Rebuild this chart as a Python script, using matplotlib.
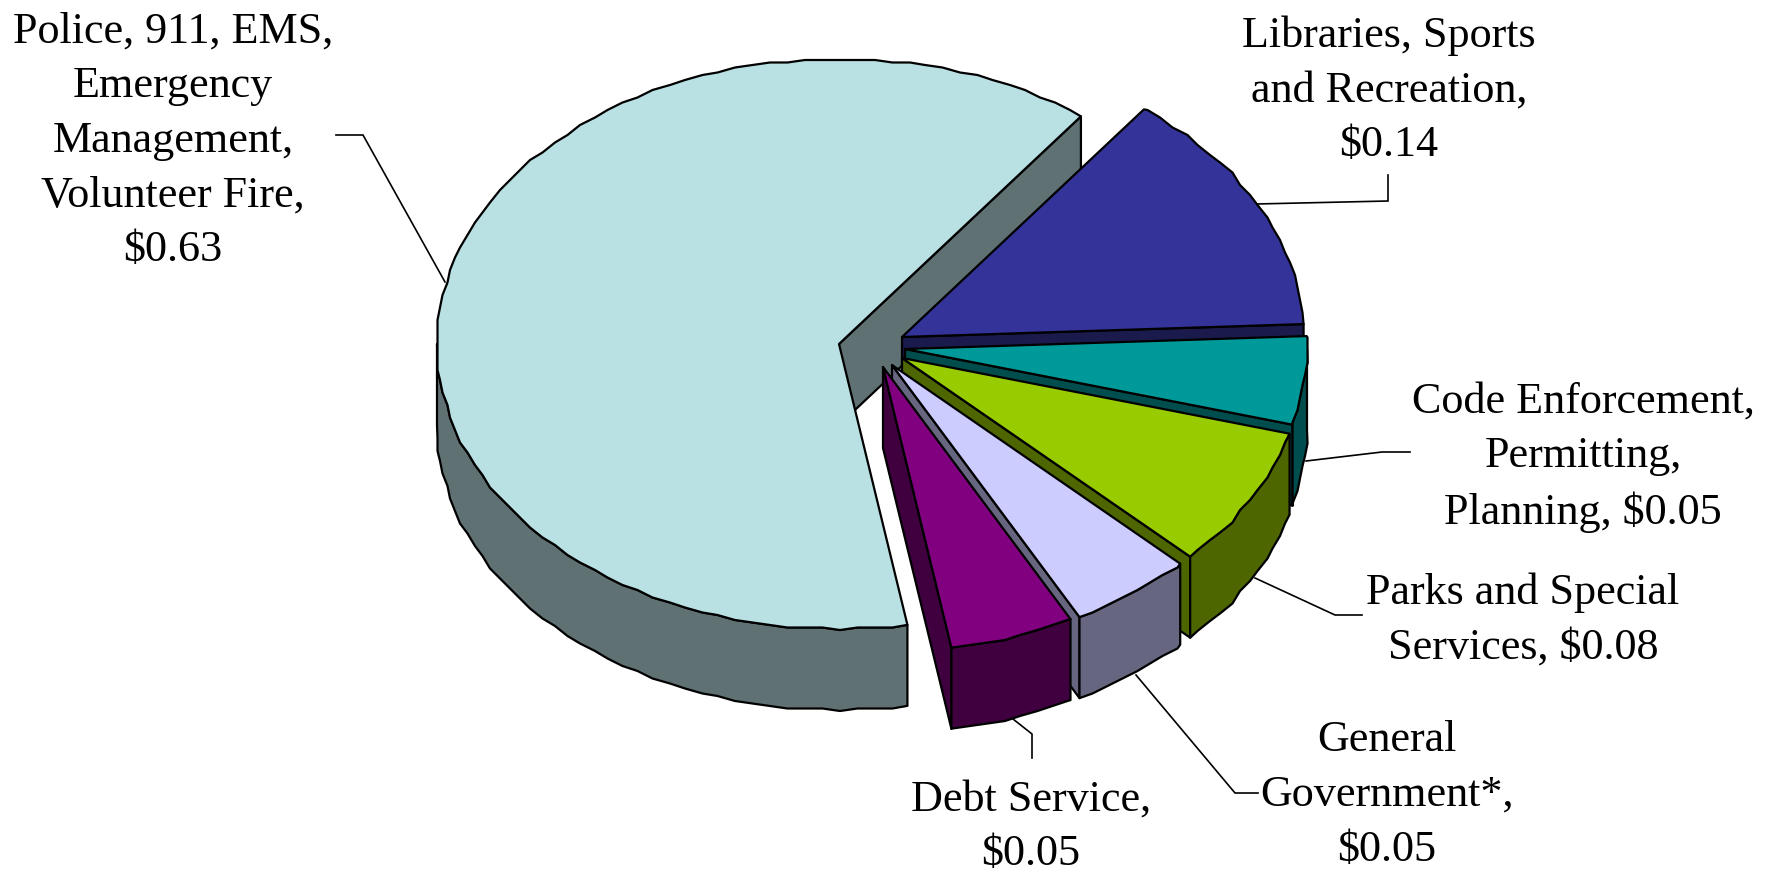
import numpy as np
import matplotlib
matplotlib.use("Agg")
import matplotlib.pyplot as plt
from matplotlib.patches import Polygon

# Share of each category, in dollars
categories = ["Police, 911, EMS,\nEmergency\nManagement,\nVolunteer Fire,",
              "Libraries, Sports\nand Recreation,",
              "Code Enforcement,\nPermitting,\nPlanning,",
              "Parks and Special\nServices,",
              "General\nGovernment*,",
              "Debt Service,"]
values = [0.63, 0.14, 0.05, 0.08, 0.05, 0.05]
value_on_new_line = [True, True, False, False, True, True]

top_colors = ["#B9E0E3", "#333399", "#009999", "#99CC00", "#CCCCFF", "#800080"]
side_colors = ["#5F7173", "#1A1A4D", "#004D4D", "#4D6600", "#666680", "#400040"]

# Projection of the pie and where each exploded slice has its tip
RX, RY, DEPTH = 402.0, 285.0, 81.0
FIRST_ANGLE = 53.0
tips = [(839, 344), (902, 337), (905, 349), (902, 358), (892, 365), (883, 367)]

label_centers = [(173, 141), (1389, 90), (1583, 457), (1523, 620), (1387, 795), (1031, 827)]
leaders = [
    [(336, 135), (363, 135), (445, 282)],
    [(1256, 204), (1388, 201), (1388, 175)],
    [(1306, 461), (1382, 452), (1410, 452)],
    [(1255, 578), (1335, 615), (1362, 615)],
    [(1136, 675), (1235, 793), (1258, 793)],
    [(1013, 719), (1032, 734), (1032, 758)],
]

EDGE = 1.6
GRID = 2.5      # the rim is snapped to this device grid, as in metafile output
RIM_STEP = 2.5  # degrees between rim vertices
plt.rcParams["font.family"] = ["Liberation Serif", "DejaVu Serif"]

fig = plt.figure(figsize=(17.69, 8.73), dpi=100)
ax = fig.add_axes([0, 0, 1, 1])
ax.set_xlim(0, 1769)
ax.set_ylim(873, 0)
ax.axis("off")


def arc_angles(a, b):
    # Shared vertex angles, so a wall's upper edge follows its top surface
    inner = np.arange(np.ceil(a / RIM_STEP + 0.01), np.floor(b / RIM_STEP - 0.01) + 1) * RIM_STEP
    return np.concatenate([[a], inner, [b]])


def rim(tip, angles_deg, drop=0.0):
    t = np.radians(angles_deg)
    pts = np.column_stack([tip[0] + RX * np.cos(t), tip[1] - RY * np.sin(t)])
    pts[1:-1] = np.round(pts[1:-1] / GRID) * GRID
    pts[:, 1] += drop
    return pts


def shape(points, color, z):
    ax.add_patch(Polygon(points, closed=True, facecolor=color, edgecolor="black",
                         linewidth=EDGE, joinstyle="round", zorder=z))


# Slices run counter-clockwise from the first angle for the largest share,
# then clockwise from the same angle for all the others.
spans = np.array(values) * 360.0
ranges = [(FIRST_ANGLE, FIRST_ANGLE + spans[0])]
current = FIRST_ANGLE
for span in spans[1:]:
    ranges.append((current - span, current))
    current -= span

z = 2
for i, (low, high) in enumerate(ranges):
    tip = tips[i]
    side = side_colors[i]

    # Cut faces seen from the viewer's side
    for ang, normal in ((low, low - 90), (high, high + 90)):
        if np.sin(np.radians(normal)) < 0:
            edge = rim(tip, np.array([ang]))[0]
            shape([tip, edge, edge + [0, DEPTH], (tip[0], tip[1] + DEPTH)], side, z)
            z += 1

    # Outer wall, only where the rim faces the viewer
    for a, b in ((low, high), (low + 360, high + 360)):
        a2, b2 = max(a, 180.0), min(b, 360.0)
        if b2 > a2:
            arc = arc_angles(a2, b2)
            shape(np.vstack([rim(tip, arc), rim(tip, arc, DEPTH)[::-1]]), side, z)
            z += 1

    # Top surface
    shape(np.vstack([[tip], rim(tip, arc_angles(low, high))]), top_colors[i], z)
    z += 1

# Labels and leader lines
for name, val, newline, center, path in zip(categories, values, value_on_new_line,
                                            label_centers, leaders):
    text = f"{name}{chr(10) if newline else ' '}${val:.2f}"
    ax.text(center[0], center[1], text, ha="center", va="center", fontsize=31.8,
            linespacing=1.47, color="black", zorder=100)
    xs, ys = zip(*path)
    ax.plot(xs, ys, color="black", lw=1.2, solid_joinstyle="miter", zorder=1)

fig.savefig("out.png", dpi=100, facecolor="white")
